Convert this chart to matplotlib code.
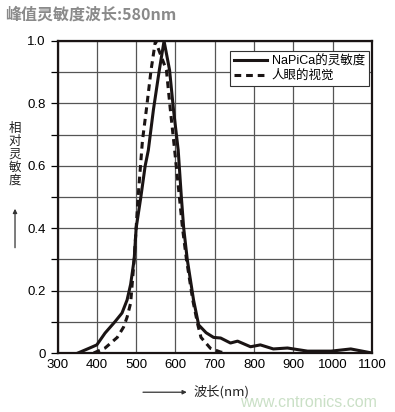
import matplotlib
matplotlib.use('Agg')
import matplotlib.pyplot as plt
from matplotlib.ticker import MultipleLocator

plt.rcParams['font.family'] = ['Liberation Sans', 'Noto Sans CJK SC', 'DejaVu Sans']

# NaPiCa 灵敏度曲线 (实线)
napica_nm = [352, 380, 400, 421, 446, 464, 477, 486, 495, 500, 512, 523, 531, 544, 559, 571,
             585, 595, 607, 615, 621, 630, 646, 659, 678, 697, 715, 740, 758, 791, 816, 849,
             885, 936, 996, 1046, 1100]
napica_val = [0.0, 0.015, 0.026, 0.064, 0.10, 0.128, 0.17, 0.22, 0.30, 0.40, 0.50, 0.60, 0.65,
              0.78, 0.907, 1.0, 0.907, 0.78, 0.65, 0.50, 0.40, 0.30, 0.17, 0.09, 0.065, 0.05,
              0.048, 0.032, 0.038, 0.02, 0.026, 0.013, 0.016, 0.006, 0.006, 0.013, 0.0]

# 人眼的视觉 (虚线)
eye_nm = [392, 421, 452, 468, 477, 486, 495, 500, 505, 516, 526, 538, 549, 577, 587, 598,
          610, 618, 628, 644, 657, 665, 689, 715, 730]
eye_val = [0.0, 0.016, 0.05, 0.083, 0.115, 0.16, 0.30, 0.40, 0.50, 0.68, 0.78, 0.907, 1.0,
           0.907, 0.78, 0.65, 0.50, 0.40, 0.30, 0.17, 0.09, 0.05, 0.015, 0.003, 0.0]

x_ticks = [300, 400, 500, 600, 700, 800, 900, 1000, 1100]
y_ticks = [0, 0.2, 0.4, 0.6, 0.8, 1.0]
y_tick_labels = ['0', '0.2', '0.4', '0.6', '0.8', '1.0']

fig = plt.figure(figsize=(3.95, 4.12), dpi=100)
ax = fig.add_axes([0.1456, 0.1432, 0.7962, 0.7573])

ax.plot(napica_nm, napica_val, color='#1a1414', lw=2.2, label='NaPiCa的灵敏度', zorder=3)
ax.plot(eye_nm, eye_val, color='#1a1414', lw=2.2, ls=(0, (2.2, 1.6)), label='人眼的视觉', zorder=3)

ax.set_xlim(300, 1100)
ax.set_ylim(0, 1.0)
ax.set_xticks(x_ticks)
ax.set_yticks(y_ticks)
ax.set_yticklabels(y_tick_labels)
ax.yaxis.set_minor_locator(MultipleLocator(0.1))
ax.grid(True, which='both', color='#555555', lw=0.9)
ax.tick_params(axis='x', length=0, labelsize=9.5, pad=4)
ax.tick_params(axis='y', which='both', length=5, width=0.9, labelsize=9.5, direction='out')
for s in ax.spines.values():
    s.set_linewidth(1.6)
    s.set_color('#1a1414')

leg = ax.legend(loc='upper right', bbox_to_anchor=(0.997, 0.975), fontsize=9,
                handlelength=2.6, fancybox=False, framealpha=1, edgecolor='#333333',
                borderpad=0.3, labelspacing=0.2, handletextpad=0.4, borderaxespad=0.2)
leg.get_frame().set_linewidth(0.8)

# 标题
fig.text(0.012, 0.965, '峰值灵敏度波长:580nm', fontsize=11.5, color='#8a8a8a',
         family=['Noto Sans CJK SC', 'DejaVu Sans'], fontweight='bold', va='center', ha='left')

# 纵轴标签
fig.text(0.038, 0.625, '\n'.join('相对灵敏度'), fontsize=9, color='#222222',
         family=['Noto Sans CJK SC'], va='center', ha='center', linespacing=1.0)
ax.annotate('', xy=(0.038, 0.50), xytext=(0.038, 0.392), xycoords='figure fraction',
            arrowprops=dict(arrowstyle='-|>', color='#333333', lw=0.9, mutation_scale=6))

# 横轴标签
ax.annotate('', xy=(0.48, 0.048), xytext=(0.355, 0.048), xycoords='figure fraction',
            arrowprops=dict(arrowstyle='-|>', color='#333333', lw=0.9, mutation_scale=6))
fig.text(0.49, 0.048, '波长(nm)', fontsize=9.5, color='#222222',
         family=['Noto Sans CJK SC', 'DejaVu Sans'], va='center', ha='left')

# 水印
fig.text(0.955, 0.022, 'www.cntronics.com', fontsize=11.5, color='#b9d6b4', alpha=0.75,
         va='center', ha='right')

fig.savefig('out.png', dpi=100, facecolor='white')
